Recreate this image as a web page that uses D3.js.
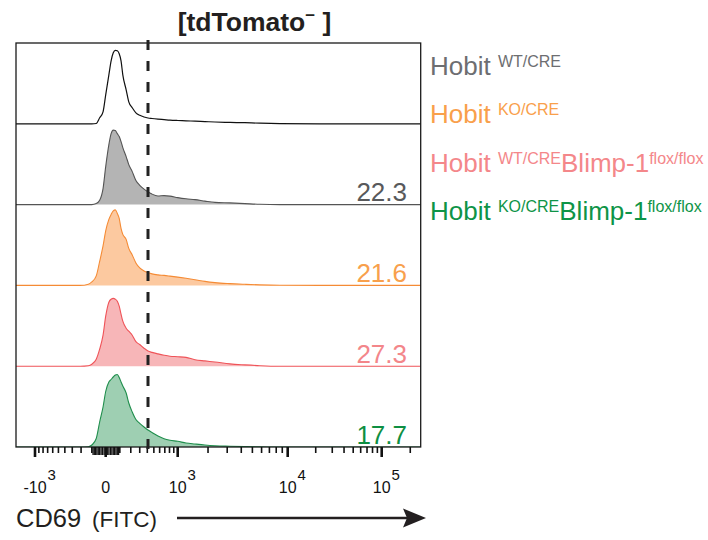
<!DOCTYPE html>
<html>
<head>
<meta charset="utf-8">
<script src="https://cdn.jsdelivr.net/npm/d3@7"></script>
<style>
  html, body { margin: 0; padding: 0; background: #fff; }
  svg { display: block; font-family: "Liberation Sans", Arial, Helvetica, sans-serif; }
</style>
</head>
<body>
<svg id="chart" width="708" height="540"></svg>
<script>
// ---------------- DATA ----------------
// CD69 (FITC) fluorescence values at which the histograms were read
const cd69Values = [-1650, -210, -130, -100, -65, -40, -17, 0, 20, 35, 50, 65, 80, 95, 110, 125, 155, 180, 215, 255, 300, 355, 410, 470, 570, 685, 810, 1000, 1220, 1500, 1870, 2320, 3180, 4300, 5800, 8600, 22000, 260000];

// histogram heights (arbitrary units, panel full scale = 81)
const controlCounts = [0,0,0,0,0.3,6,12,29,49,63,71,73.5,73,70,63,49,34,22,16,11,8.5,6.8,5.8,5.3,4.7,4.2,3.7,3.3,3,2.6,2.2,1.8,1.4,1.1,0.6,0.2,0,0];
const hobitWtCounts = [0,0,0,0,1,4.3,16,38,60,71,74.5,74,71,68,63,57,48,40,33,24,19.3,15.5,12.8,10.5,8.6,9,8.5,7,5.8,5,3.5,2.2,1.7,1,0.3,0,0,0];
const hobitKoCounts = [0,0,1.2,3.5,9.5,24,39.5,54.5,66,71,74.5,75.5,72,67,57,51,46,37,30.5,22.5,17.5,14.5,12.8,11.5,10.5,10,9.3,8.3,7.1,5.7,4,2.8,1.8,1.1,0.5,0.1,0,0];
const hobitWtBlimpCounts = [0,0,0.5,2,7,17,31,50,64,67,67.8,67,65,60,52,45,38,35,31,24.5,21.7,18,15.2,13.8,12.3,11,10,9.5,8.8,6.5,5.3,4.2,2.3,1.3,0.5,0,0,0];
const hobitKoBlimpCounts = [0,0,0.3,2,8.5,25,40,55.5,65,67.5,70,72,72.5,69.5,65,61,54,44,35,27.5,23.7,20,17,14.5,11,8.3,6.8,5.7,4,3,2,1.3,0.8,0.4,0.1,0,0,0];

const panelSeries = [controlCounts, hobitWtCounts, hobitKoCounts, hobitWtBlimpCounts, hobitKoBlimpCounts];
const panelFills = ["none", "#b4b4b4", "#fcc9a0", "#f7b6b8", "#9ecfb2"];
const panelStrokes = ["#111111", "#555555", "#f58b35", "#ef5358", "#1f8e4c"];
const gatePercents = ["", "22.3", "21.6", "27.3", "17.7"];
const gateColors = ["", "#58595b", "#f8a04c", "#f3868a", "#0e8f43"];
const gateValue = 410;

const legendMain = ["Hobit ", "Hobit ", "Hobit ", "Hobit "];
const legendSup = ["WT/CRE", "KO/CRE", "WT/CRE", "KO/CRE"];
const legendMain2 = ["", "", "Blimp-1", "Blimp-1"];
const legendSup2 = ["", "", "flox/flox", "flox/flox"];
const legendColors = ["#6d6e71", "#f9a04b", "#f4878a", "#0e9447"];

const axisAnchors = [-1000, 0, 1000, 10000, 100000];
const majorTickBases = ["-10", "0", "10", "10", "10"];
const majorTickExps = ["3", "", "3", "4", "5"];
const minorTicks = [-900,-800,-700,-600,-500,-400,-300,-200,-100,
  -90,-80,-70,-60,-50,-40,-30,-20,-10,10,20,30,40,50,60,70,80,90,
  100,200,300,400,500,600,700,800,900,
  2000,3000,4000,5000,6000,7000,8000,9000,
  20000,30000,40000,50000,60000,70000,80000,90000,200000];

// ---------------- LAYOUT ----------------
const box = {left: 16, right: 420.7, top: 43, bottom: 447};
const panelH = (box.bottom - box.top) / panelSeries.length;

const svg = d3.select("#chart");

// biexponential-like display (symlog, piecewise)
const x = d3.scaleSymlog().constant(300)
  .domain(axisAnchors)
  .range([35, 105.7, 177.7, 287.7, 381.7]);

svg.append("defs").append("clipPath").attr("id", "boxclip")
  .append("rect")
  .attr("x", box.left).attr("y", box.top)
  .attr("width", box.right - box.left).attr("height", box.bottom - box.top);

const plot = svg.append("g").attr("clip-path", "url(#boxclip)");

panelSeries.forEach((counts, i) => {
  const base = box.top + panelH * (i + 1);
  const y = d3.scaleLinear().domain([0, 81]).range([base, base - 81]);
  const pts = cd69Values.map((v, k) => [v, counts[k]]);
  const area = d3.area().x(d => x(d[0])).y0(base).y1(d => y(d[1])).curve(d3.curveMonotoneX);
  const line = d3.line().x(d => x(d[0])).y(d => y(d[1])).curve(d3.curveMonotoneX);
  if (panelFills[i] !== "none") {
    plot.append("path").attr("d", area(pts)).attr("fill", panelFills[i]).attr("stroke", "none");
  }
  plot.append("path").attr("d", line(pts)).attr("fill", "none")
    .attr("stroke", panelStrokes[i]).attr("stroke-width", i === 0 ? 1.2 : 1.1);
  if (gatePercents[i]) {
    svg.append("text").attr("x", 407).attr("y", base - 3.5)
      .attr("text-anchor", "end").attr("font-size", 26)
      .attr("fill", gateColors[i]).text(gatePercents[i]);
  }
});

// frame
svg.append("rect")
  .attr("x", box.left).attr("y", box.top)
  .attr("width", box.right - box.left).attr("height", box.bottom - box.top)
  .attr("fill", "none").attr("stroke", "#1a1a1a").attr("stroke-width", 1.3);

// ticks
const tickG = svg.append("g");
minorTicks.forEach(v => {
  const near = Math.abs(v) < 100;
  tickG.append("line")
    .attr("x1", x(v)).attr("x2", x(v))
    .attr("y1", box.bottom).attr("y2", box.bottom + (near ? 8 : 6))
    .attr("stroke", "#111").attr("stroke-width", near ? 1.3 : 1.6);
});
axisAnchors.forEach(v => {
  tickG.append("line")
    .attr("x1", x(v)).attr("x2", x(v))
    .attr("y1", box.bottom).attr("y2", box.bottom + 10)
    .attr("stroke", "#111").attr("stroke-width", 2.6);
});

// tick labels
axisAnchors.forEach((v, i) => {
  const t = svg.append("text").attr("x", x(v)).attr("y", 493)
    .attr("text-anchor", "middle").attr("font-size", 16).attr("fill", "#111")
    .text(majorTickBases[i]);
  if (majorTickExps[i]) {
    const w = t.node().getComputedTextLength();
    svg.append("text").attr("x", x(v) + w / 2 + 1).attr("y", 480)
      .attr("font-size", 15).attr("fill", "#111").text(majorTickExps[i]);
  }
});

// gate line
svg.append("line")
  .attr("x1", x(gateValue)).attr("x2", x(gateValue))
  .attr("y1", 40).attr("y2", 455)
  .attr("stroke", "#222").attr("stroke-width", 3)
  .attr("stroke-dasharray", "10,11");

// title
const title = svg.append("text").attr("x", 254.5).attr("y", 31)
  .attr("text-anchor", "middle").attr("font-size", 26.5).attr("font-weight", "bold").attr("fill", "#231f20");
title.append("tspan").text("[tdTomato");
title.append("tspan").attr("font-size", 17).attr("dy", -10).text("\u2212");
title.append("tspan").attr("dy", 10).text(" ]");

// legend
legendMain.forEach((m, i) => {
  const yb = 75 + i * 48.3;
  const t = svg.append("text").attr("x", 430).attr("y", yb)
    .attr("font-size", 26).attr("fill", legendColors[i]);
  t.append("tspan").text(m);
  t.append("tspan").attr("font-size", 16).attr("dy", -8).text(legendSup[i]);
  if (legendMain2[i]) {
    t.append("tspan").attr("dy", 8).text(legendMain2[i]);
    t.append("tspan").attr("font-size", 16).attr("dy", -8).text(legendSup2[i]);
  }
});

// axis title
svg.append("text").attr("x", 16).attr("y", 527).attr("fill", "#231f20")
  .attr("font-size", 25.5).text("CD69");
svg.append("text").attr("x", 92).attr("y", 527).attr("fill", "#231f20")
  .attr("font-size", 22.5).text("(FITC)");

svg.append("line").attr("x1", 177).attr("x2", 408).attr("y1", 518).attr("y2", 518)
  .attr("stroke", "#231f20").attr("stroke-width", 2.6);
svg.append("path").attr("d", "M426,518 L403,508.5 L407,518 L403,527.5 Z").attr("fill", "#231f20");
</script>
</body>
</html>
